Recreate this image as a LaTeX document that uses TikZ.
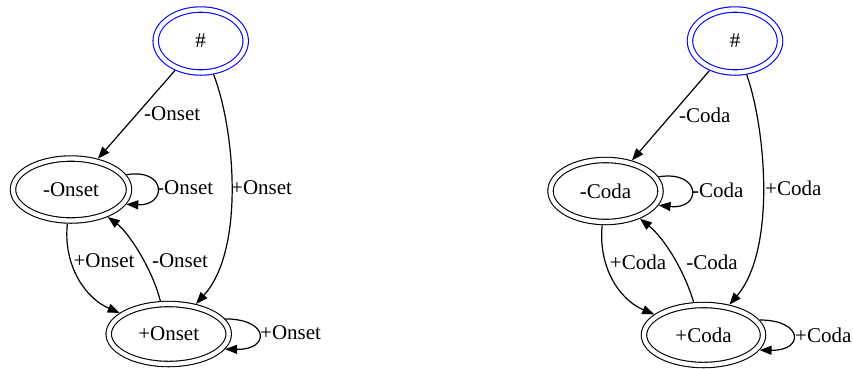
\documentclass[tikz,border=0pt]{standalone}
\usepackage{fontspec}
\setmainfont{Liberation Serif}
\usetikzlibrary{shapes.geometric,arrows.meta}
\begin{document}
\begin{tikzpicture}[x=1pt,y=-1pt,
  st/.style={ellipse, draw, double, double distance=4.3pt, line width=1.1pt, inner sep=0pt, outer sep=3.3pt, font=\fontsize{21}{25}\selectfont},
  init/.style={st, draw=blue},
  arr/.style={line width=1.2pt, -{Triangle[length=12pt,width=9pt]}},
  lab/.style={font=\fontsize{21}{25}\selectfont, inner sep=0pt, anchor=west}]
\useasboundingbox (0,0) rectangle (853,368);
% ---------- left graph ----------
\node[init, minimum width=90pt, minimum height=63pt] (hL) at (200.7,41) {\#};
\node[st, minimum width=116pt, minimum height=62pt] (mO) at (71,189.5) {-Onset};
\node[st, minimum width=120pt, minimum height=60pt] (pO) at (168.7,334) {+Onset};
\draw[arr] (hL) -- (mO);
\draw[arr] (hL) .. controls (235,130) and (245,250) .. (pO);
\draw[arr] (mO.15) .. controls (167,168) and (167,206) .. (mO.-15);
\draw[arr] (mO) .. controls (63,265) and (85,298) .. (pO);
\draw[arr] (pO) .. controls (152,268) and (128,232) .. (mO);
\draw[arr] (pO.15) .. controls (270,319) and (270,350) .. (pO.-15);
\node[lab] (l1) at (144,114) {-Onset};
\node[lab] (l2) at (231,188) {+Onset};
\node[lab] (l3) at (157,188) {-Onset};
\node[lab, anchor=center] (l4) at (104,261) {+Onset};
\node[lab, anchor=center] (l5) at (180,261) {-Onset};
\node[lab] (l6) at (260,333) {+Onset};
% ---------- right graph ----------
\node[init, minimum width=90pt, minimum height=63pt] (hR) at (735,41) {\#};
\node[st, minimum width=110pt, minimum height=62pt] (mC) at (605.5,191) {-Coda};
\node[st, minimum width=119pt, minimum height=60pt] (pC) at (703.5,335) {+Coda};
\draw[arr] (hR) -- (mC);
\draw[arr] (hR) .. controls (766,130) and (776,250) .. (pC);
\draw[arr] (mC.15) .. controls (702,170) and (702,210) .. (mC.-15);
\draw[arr] (mC) .. controls (598,268) and (620,300) .. (pC);
\draw[arr] (pC) .. controls (684,270) and (664,238) .. (mC);
\draw[arr] (pC.15) .. controls (804,320) and (804,351) .. (pC.-15);
\node[lab] (r1) at (679,115) {-Coda};
\node[lab] (r2) at (765,188) {+Coda};
\node[lab] (r3) at (692,190) {-Coda};
\node[lab, anchor=center] (r4) at (638,262) {+Coda};
\node[lab, anchor=center] (r5) at (712,262) {-Coda};
\node[lab] (r6) at (795,335) {+Coda};
\end{tikzpicture}
\end{document}
